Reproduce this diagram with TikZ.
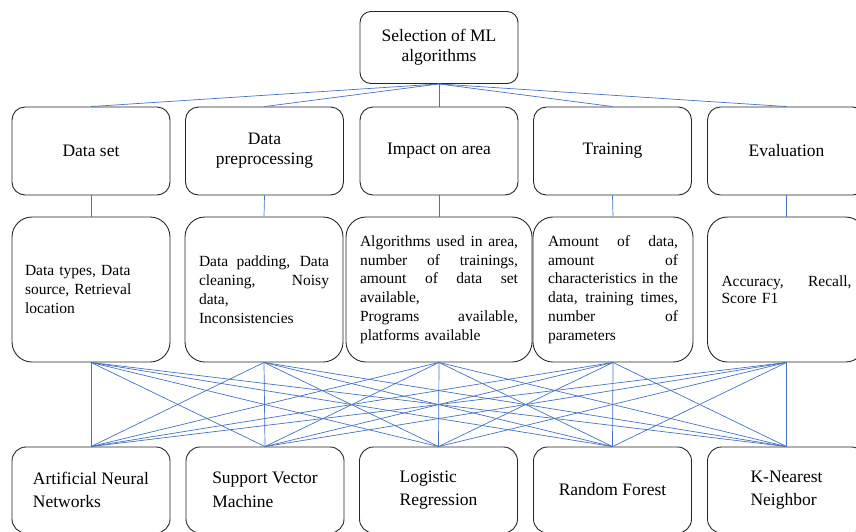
\documentclass[tikz,border=0pt]{standalone}
\usepackage{fontspec}
\setmainfont{Liberation Serif}
\definecolor{linkblue}{HTML}{4472C4}
\definecolor{edge}{HTML}{262626}
% a line stretched to a given width by widening its interword spaces
\newcommand\spreadline[2]{\leavevmode\hbox to #1{\spaceskip=.25em plus 1fil\relax #2}}
\begin{document}
\begin{tikzpicture}[x=1pt,y=-1pt,
  box/.style={draw=edge, line width=0.9pt, inner sep=0pt},
  topbox/.style={box, rounded corners=11pt, minimum width=158pt, minimum height=72pt,
    align=center, font=\fontsize{17.5}{20}\selectfont},
  headbox/.style={box, rounded corners=13pt, minimum width=158pt, minimum height=88pt,
    align=center, font=\fontsize{17.5}{20}\selectfont},
  detailbox/.style={box, rounded corners=20pt, minimum height=145pt, text width=130pt,
    inner xsep=14pt, align=left, font=\fontsize{15.5}{18.8}\selectfont},
  algobox/.style={box, rounded corners=14pt, minimum width=158pt, minimum height=86pt,
    align=left, font=\fontsize{17.5}{23.5}\selectfont},
  link/.style={draw=linkblue, line width=0.7pt}]
\useasboundingbox (0,0) rectangle (856,531);
\clip (0,0) rectangle (856,531);

% root
\node[topbox] (top) at (439,47.5) {Selection of ML\\algorithms};

% criteria
\node[headbox] (ds) at (91,151)    {Data set};
\node[headbox] (dp) at (264.5,151) {Data\\preprocessing};
\node[headbox] (ia) at (439,151)   {Impact on area};
\node[headbox] (tr) at (612.5,151) {Training};
\node[headbox] (ev) at (786.5,151) {Evaluation};

% details of each criterion
\node[detailbox, text width=132pt, inner xsep=13pt] (dsx) at (91,289.5)
  {Data types, Data\\source, Retrieval\\location};
\node[detailbox] (dpx) at (264,289.5)
  {\spreadline{130pt}{Data padding, Data}\\
   \spreadline{130pt}{cleaning, Noisy}\\
   data,\\
   Inconsistencies};
\node[detailbox, text width=158pt] (iax) at (439,289.5)
  {\spreadline{158pt}{Algorithms used in area,}\\
   \spreadline{158pt}{number of trainings,}\\
   \spreadline{158pt}{amount of data set}\\
   available,\\
   \spreadline{158pt}{Programs available,}\\
   platforms available};
\node[detailbox, inner xsep=15pt] (trx) at (613,289.5)
  {\spreadline{130pt}{Amount of data,}\\
   \spreadline{130pt}{amount of}\\
   \spreadline{130pt}{characteristics in the}\\
   \spreadline{130pt}{data, training times,}\\
   \spreadline{130pt}{number of}\\
   parameters};
\node[detailbox, font=\fontsize{15.5}{17.5}\selectfont] (evx) at (786.5,289.5)
  {\spreadline{130pt}{Accuracy, Recall,}\\
   Score F1};

% candidate algorithms
\node[algobox] (ann) at (91,490)    {Artificial Neural\\Networks};
\node[algobox] (svm) at (265,490)   {Support Vector\\Machine};
\node[algobox] (lr)  at (438.5,490) {Logistic\\Regression};
\node[algobox] (rf)  at (612.5,490) {Random Forest};
\node[algobox] (knn) at (786.5,490) {K-Nearest\\Neighbor};

% connectors
\foreach \h in {ds,dp,ia,tr,ev}
  \draw[link] (top.south) -- (\h.north);
\foreach \h in {ds,dp,ia,tr,ev}
  \draw[link] (\h.south) -- (\h x.north);
\foreach \d in {dsx,dpx,iax,trx,evx}
  \foreach \m in {ann,svm,lr,rf,knn}
    \draw[link] (\d.south) -- (\m.north);
\end{tikzpicture}
\end{document}
